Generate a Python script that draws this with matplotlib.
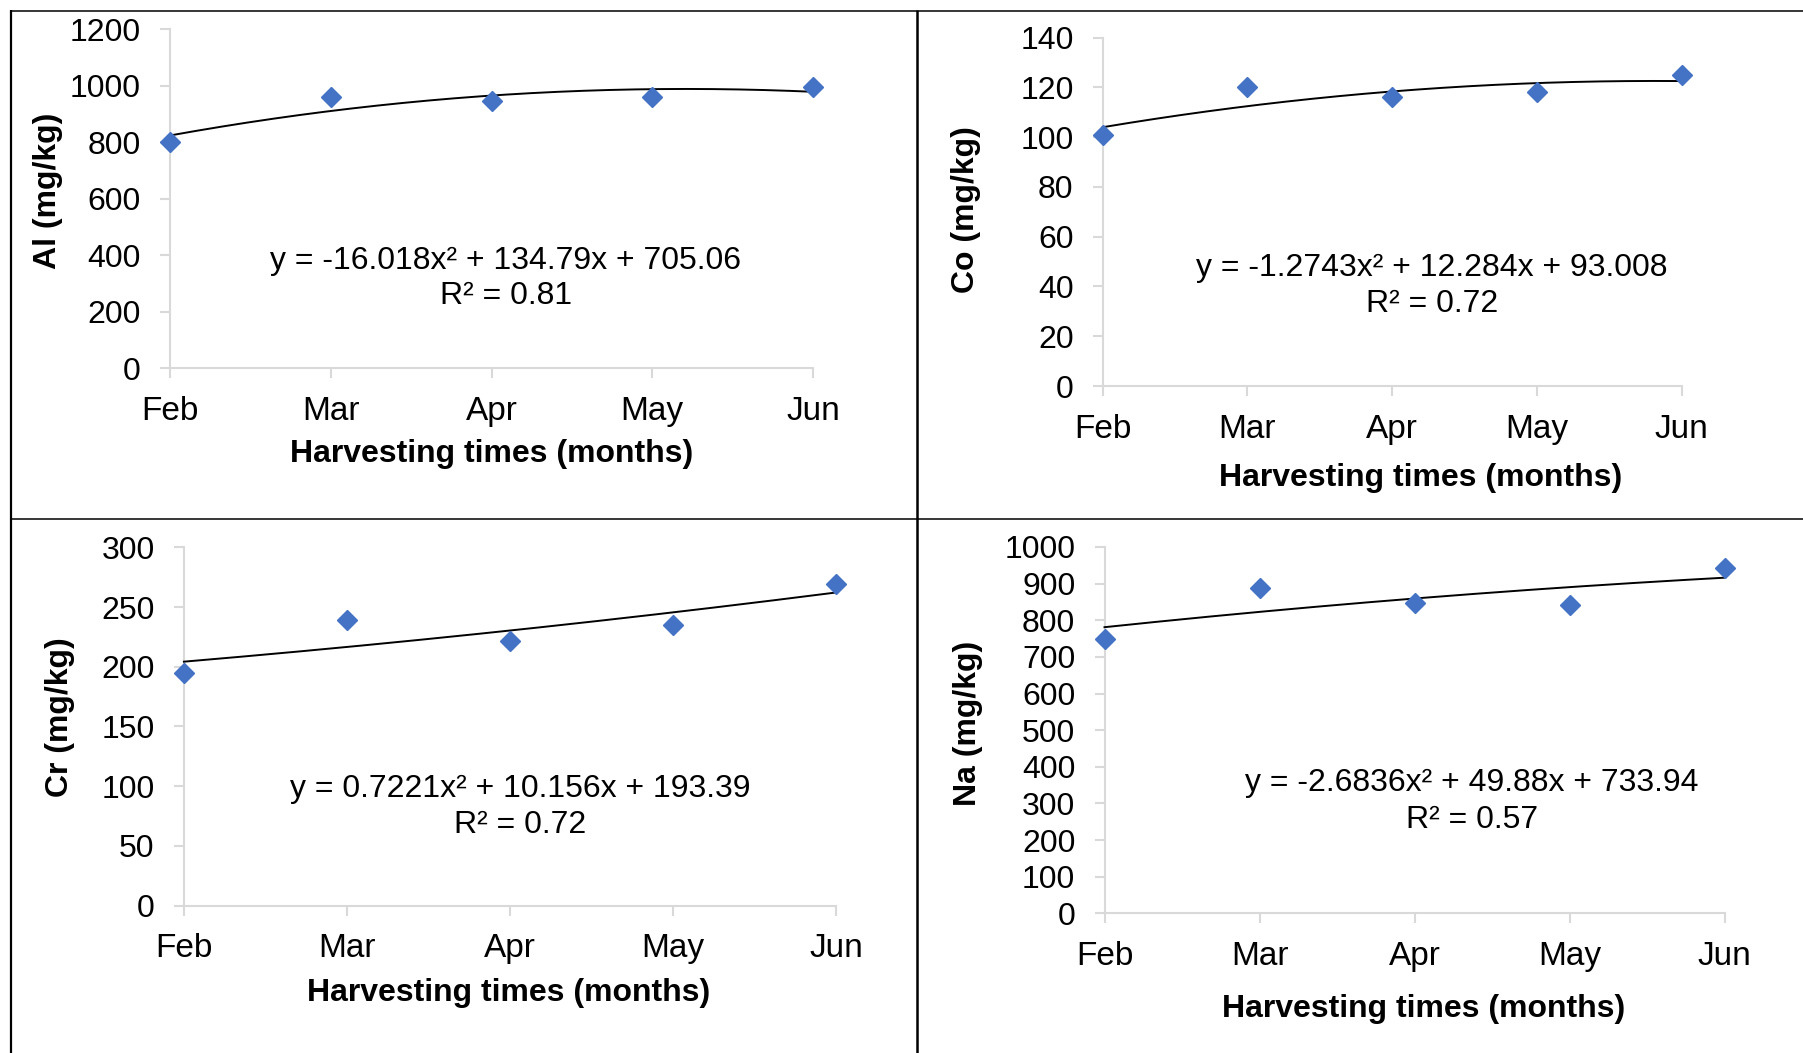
import numpy as np
import matplotlib
matplotlib.use("Agg")
import matplotlib.pyplot as plt
from matplotlib.lines import Line2D

plt.rcParams['font.family'] = ['Liberation Sans', 'DejaVu Sans']

# ---- data ----
months = ['Feb', 'Mar', 'Apr', 'May', 'Jun']
x_pos = [1, 2, 3, 4, 5]

al_values = [800, 961, 947, 959, 995]
co_values = [101, 120, 116, 118, 125]
cr_values = [195, 239, 222, 235, 269]
na_values = [750, 889, 846, 843, 943]

# quadratic trendline coefficients (a, b, c) for y = a x^2 + b x + c
al_fit = [-16.018, 134.79, 705.06]
co_fit = [-1.2743, 12.284, 93.008]
cr_fit = [0.7221, 10.156, 193.39]
na_fit = [-2.6836, 49.88, 733.94]

al_r2 = 0.81
co_r2 = 0.72
cr_r2 = 0.72
na_r2 = 0.57

al_eq = "y = -16.018x\u00b2 + 134.79x + 705.06"
co_eq = "y = -1.2743x\u00b2 + 12.284x + 93.008"
cr_eq = "y = 0.7221x\u00b2 + 10.156x + 193.39"
na_eq = "y = -2.6836x\u00b2 + 49.88x + 733.94"

al_ticks = list(range(0, 1201, 200))
co_ticks = list(range(0, 141, 20))
cr_ticks = list(range(0, 301, 50))
na_ticks = list(range(0, 1001, 100))

W, H = 1803, 1053
fig = plt.figure(figsize=(W / 100, H / 100), dpi=100)


def fx(px):
    return px / W


def fy(py):
    return 1 - py / H


panels = [
    dict(name='Al', vals=al_values, fit=al_fit, r2=al_r2, eq=al_eq, ticks=al_ticks,
         ax=(170, 813, 29.3, 368), eqpos=(506, 269, 304.5), ylab=(48, 191), xlab=(492, 454)),
    dict(name='Co', vals=co_values, fit=co_fit, r2=co_r2, eq=co_eq, ticks=co_ticks,
         ax=(1102.7, 1681.5, 37.7, 386), eqpos=(1432, 276, 312.5), ylab=(966, 210), xlab=(1421, 478)),
    dict(name='Cr', vals=cr_values, fit=cr_fit, r2=cr_r2, eq=cr_eq, ticks=cr_ticks,
         ax=(183.9, 836, 547.4, 905.5), eqpos=(520, 797, 833), ylab=(60, 717), xlab=(509, 993)),
    dict(name='Na', vals=na_values, fit=na_fit, r2=na_r2, eq=na_eq, ticks=na_ticks,
         ax=(1104.5, 1724.8, 547, 913.4), eqpos=(1472, 791, 828), ylab=(968, 723), xlab=(1424, 1009)),
]

grey = '#d9d9d9'
blue = '#4472C4'

for p in panels:
    x0, x1, ytop, ybot = p['ax']
    ax = fig.add_axes([fx(x0), fy(ybot), fx(x1 - x0), (ybot - ytop) / H])
    ax.set_xlim(1, 5)
    ax.set_ylim(p['ticks'][0], p['ticks'][-1])
    ax.set_xticks(x_pos)
    ax.set_xticklabels(months, fontsize=24)
    ax.set_yticks(p['ticks'])
    ax.set_yticklabels([str(t) for t in p['ticks']], fontsize=23)
    for s in ['top', 'right']:
        ax.spines[s].set_visible(False)
    for s in ['left', 'bottom']:
        ax.spines[s].set_color(grey)
        ax.spines[s].set_linewidth(1.5)
    ax.tick_params(axis='x', direction='out', length=7, width=1.5, color=grey, pad=13, labelcolor='black')
    ax.tick_params(axis='y', direction='out', length=7, width=1.5, color=grey, pad=14, labelcolor='black')
    ax.patch.set_alpha(0)

    a, b, c = p['fit']
    xs = np.linspace(1, 5, 200)
    ax.plot(xs, a * xs ** 2 + b * xs + c, color='black', lw=1.4, clip_on=False, zorder=3)
    ax.plot(x_pos, p['vals'], linestyle='none', marker='D', markersize=10,
            color=blue, clip_on=False, zorder=4)

    ex, eb1, eb2 = p['eqpos']
    fig.text(fx(ex), fy(eb1), p['eq'], ha='center', va='baseline', fontsize=23)
    fig.text(fx(ex), fy(eb2), "R\u00b2 = %.2f" % p['r2'], ha='center', va='baseline', fontsize=23)

    lx, ly = p['ylab']
    fig.text(fx(lx), fy(ly), "%s (mg/kg)" % p['name'], rotation=90, ha='center', va='center',
             fontsize=23, fontweight='bold')
    hx, hy = p['xlab']
    fig.text(fx(hx), fy(hy), "Harvesting times (months)", ha='center', va='center',
             fontsize=23, fontweight='bold')

# panel borders
def fline(xa, ya, xb, yb, lw):
    fig.add_artist(Line2D([fx(xa), fx(xb)], [fy(ya), fy(yb)], transform=fig.transFigure,
                          color='black', lw=lw, solid_capstyle='butt'))

fline(10, 10.7, W, 10.7, 1.1)      # top
fline(10.5, 10, 10.5, H, 1.6)      # left
fline(917, 10, 917, H, 1.8)        # vertical divider
fline(10, 518.5, W, 518.5, 1.1)    # horizontal divider

fig.savefig('out.png', dpi=100)
